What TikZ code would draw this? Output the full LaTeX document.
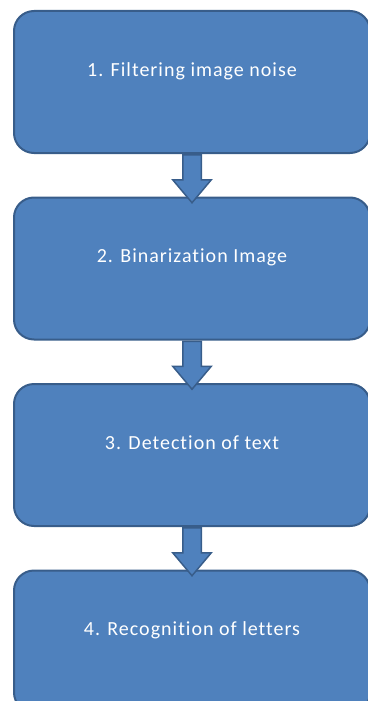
\documentclass[tikz,border=0pt]{standalone}
\usepackage{fontspec}
\setmainfont{Carlito}
\newfontfamily\stepfont{Carlito}[LetterSpace=5,Ligatures=NoCommon]
\usepackage{tikz}
\usetikzlibrary{arrows,shapes,positioning}
\usetikzlibrary{calc}
\definecolor{stepfill}{HTML}{4F81BD}
\definecolor{stepline}{HTML}{385D8A}

\begin{document}
\begin{tikzpicture}[x=1pt,y=1pt,
  stepbox/.style={draw=stepline,fill=stepfill,line width=2pt,rounded corners=20pt,
    minimum width=356pt,minimum height=142pt,text=white,font=\stepfont\fontsize{20}{24}\selectfont,
    text height=14pt,text depth=26pt,inner sep=0pt},
  flowarrow/.style={single arrow,draw=stepline,fill=stepfill,line width=1.5pt,
    shape border rotate=270,minimum height=48pt,inner sep=8.5pt,
    single arrow head extend=10pt,single arrow tip angle=80,anchor=tail}]
  \useasboundingbox (0,0) rectangle (367,-701);

  % Nodes
  \node[stepbox] (filter) at (192,-82) {1. Filtering image noise};
  \node[stepbox,below=42.5pt of filter] (binar) {2. Binarization Image};
  \node[stepbox,below=42.5pt of binar] (detect) {3. Detection of text};
  \node[stepbox,below=42.5pt of detect] (recog) {4. Recognition of letters};

  % Arrows
  \node[flowarrow] (a1) at (filter.south) {};
  \node[flowarrow] (a2) at (binar.south) {};
  \node[flowarrow] (a3) at (detect.south) {};
\end{tikzpicture}
\end{document}
